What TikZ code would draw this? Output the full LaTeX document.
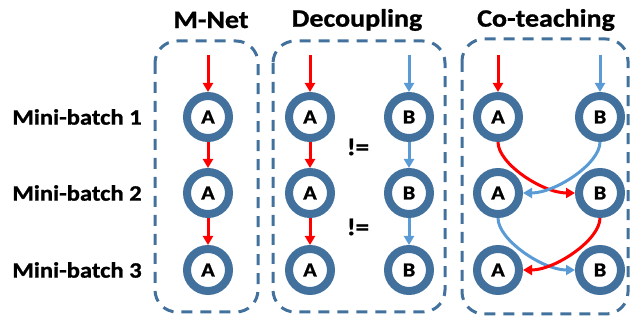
\documentclass[tikz,border=0pt]{standalone}
\usepackage{fontspec}
\setmainfont{Carlito}
\newfontfamily\lblfont[FakeStretch=1.12,FakeBold=1]{Carlito}
\usetikzlibrary{arrows.meta}
\definecolor{ringblue}{HTML}{41719C}
\definecolor{lightarr}{HTML}{5B9BD5}
\definecolor{redarr}{HTML}{FF0000}
\tikzset{
  net/.style={circle,draw=ringblue,line width=8pt,minimum size=42pt,inner sep=0pt,fill=white,
    font=\lblfont\bfseries\fontsize{20}{20}\selectfont},
  title/.style={font=\lblfont\bfseries\fontsize{25}{25}\selectfont},
  batch/.style={font=\lblfont\bfseries\fontsize{22}{22}\selectfont},
  neq/.style={font=\lblfont\bfseries\fontsize{24}{24}\selectfont},
  frame/.style={draw=ringblue,line width=3pt,dash pattern=on 11pt off 8pt,rounded corners=22pt},
  ared/.style={draw=redarr,line width=3pt,-{Triangle[length=9pt,width=10pt]}},
  ablue/.style={draw=lightarr,line width=3pt,-{Triangle[length=9pt,width=10pt]}}
}
\begin{document}
\begin{tikzpicture}[x=1pt,y=-1pt]
        \useasboundingbox (0,0) rectangle (632,320);
        % frames
        \draw[frame] (155,41) rectangle (258,312);
        \draw[frame] (273,41) rectangle (445,312);
        \draw[frame] (462,39) rectangle (628,314);
        % titles
        \node[title](t1) at (211,20) {M-Net};
        \node[title](t2) at (357,20) {Decoupling};
        \node[title](t3) at (546,20) {Co-teaching};
        \node[batch](r1) at (77,117) {Mini-batch 1};
        \node[batch](r2) at (77,193) {Mini-batch 2};
        \node[batch](r3) at (77,270) {Mini-batch 3};
        % M-Net
        \node[net](m1) at (208,117) {A};
        \node[net](m2) at (208,193) {A};
        \node[net](m3) at (208,270) {A};
        \coordinate(m0) at (208,55);
        \draw[ared](m0)--(m1);
        \draw[ared](m1)--(m2);
        \draw[ared](m2)--(m3);
        % Decoupling
        \node[net](da1) at (310,117) {A};
        \node[net](da2) at (310,193) {A};
        \node[net](da3) at (310,270) {A};
        \node[net](db1) at (409,117) {B};
        \node[net](db2) at (409,193) {B};
        \node[net](db3) at (409,270) {B};
        \coordinate(da0) at (310,55);
        \coordinate(db0) at (409,55);
        \draw[ared](da0)--(da1);
        \draw[ared](da1)--(da2);
        \draw[ared](da2)--(da3);
        \draw[ablue](db0)--(db1);
        \draw[ablue](db1)--(db2);
        \draw[ablue](db2)--(db3);
        \node[neq](n1) at (358,147) {!=};
        \node[neq](n2) at (358,227) {!=};
        % Co-teaching
        \node[net](ca1) at (498,117) {A};
        \node[net](ca2) at (498,193) {A};
        \node[net](ca3) at (498,270) {A};
        \node[net](cb1) at (600,117) {B};
        \node[net](cb2) at (600,193) {B};
        \node[net](cb3) at (600,270) {B};
        \coordinate(ca0) at (498,55);
        \coordinate(cb0) at (600,55);
        \draw[ared](ca0)--(ca1);
        \draw[ablue](cb0)--(cb1);
        \draw[ared](ca1.south) .. controls +(0,22) and +(-32,0) .. (cb2.west);
        \draw[ablue](cb1.south) .. controls +(0,22) and +(32,0) .. (ca2.east);
        \draw[ablue](ca2.south) .. controls +(0,22) and +(-32,0) .. (cb3.west);
        \draw[ared](cb2.south) .. controls +(0,22) and +(32,0) .. (ca3.east);
\end{tikzpicture}
\end{document}
